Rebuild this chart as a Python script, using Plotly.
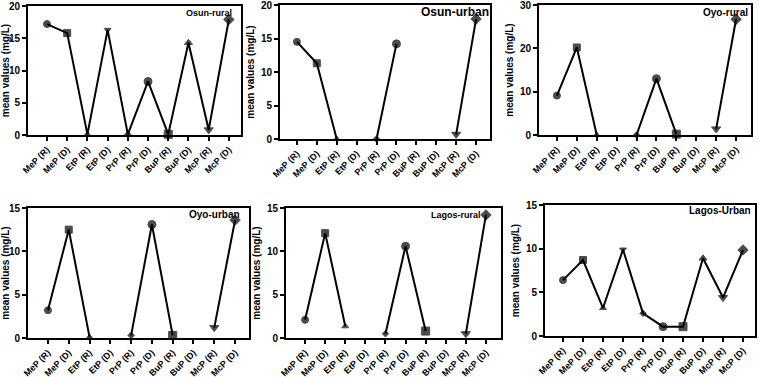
import plotly.graph_objects as go

categories = ["MeP (R)", "MeP (D)", "EtP (R)", "EtP (D)", "PrP (R)", "PrP (D)",
              "BuP (R)", "BuP (D)", "McP (R)", "McP (D)"]
markers = ["circle", "square", "triangle-up", "triangle-down", "diamond", "circle",
           "square", "triangle-up", "triangle-down", "diamond"]
marker_sizes = [7, 7, 6, 6, 5, 8, 8, 7, 8, 8]

osun_rural = [17.2, 15.8, 0.1, 16.3, 0.1, 8.3, 0.1, 14.3, 0.8, 17.9]
osun_urban = [14.5, 11.3, 0.0, None, 0.0, 14.2, None, None, 0.7, 17.9]
oyo_rural = [9.1, 20.2, 0.0, None, 0.0, 13.0, 0.2, None, 1.4, 26.7]
oyo_urban = [3.2, 12.5, 0.1, None, 0.3, 13.1, 0.3, None, 1.2, 13.6]
lagos_rural = [2.1, 12.1, 1.35, None, 0.5, 10.6, 0.8, None, 0.5, 14.2]
lagos_urban = [6.4, 8.7, 3.2, 9.9, 2.6, 1.07, 1.07, 8.9, 4.4, 9.85]

titles = ["Osun-rural", "Osun-urban", "Oyo-rural", "Oyo-urban", "Lagos-rural", "Lagos-Urban"]
series = [osun_rural, osun_urban, oyo_rural, oyo_urban, lagos_rural, lagos_urban]
yranges = [[0, 20], [0, 20], [0, 30], [0, 15], [0, 15], [0, 15]]
ydticks = [5, 5, 10, 5, 5, 5]

W, H = 759, 377
# pixel boxes: x0, x1, ytop, ybottom
boxes = [(28, 241, 6, 135), (280, 490, 5, 139), (539, 751, 5, 135),
         (28, 249, 208, 338), (286, 501, 208, 338), (545, 755, 205, 336)]
xranges = [[-0.94, 9.6], [-0.85, 9.7], [-0.9, 9.75], [-0.96, 9.67], [-0.95, 9.75], [-0.9, 9.6]]
title_pos = [(233, 7, 9), (490, 4, 12), (749, 6, 10), (241, 208, 10), (482, 209, 9), (752, 204, 10)]

fig = go.Figure()
font_fam = "Liberation Sans, Arial, sans-serif"

for i in range(6):
    xa = "x" if i == 0 else f"x{i+1}"
    ya = "y" if i == 0 else f"y{i+1}"
    fig.add_trace(go.Scatter(
        x=list(range(len(categories))), y=series[i], xaxis=xa, yaxis=ya,
        mode="lines+markers", connectgaps=False, cliponaxis=False,
        line=dict(color="black", width=2),
        marker=dict(symbol=markers, size=marker_sizes, color="black",
                    line=dict(color="black", width=1)),
        showlegend=False, hoverinfo="skip"))
    x0, x1, yt, yb = boxes[i]
    key = "" if i == 0 else str(i + 1)
    fig.layout["xaxis" + key] = dict(
        domain=[x0 / W, x1 / W], anchor=ya, range=xranges[i], automargin=False,
        tickvals=list(range(len(categories))), ticktext=categories,
        tickangle=-45, ticks="outside", ticklen=4, tickwidth=2, tickcolor="black",
        showline=True, linecolor="black", linewidth=2, mirror=True,
        showgrid=False, zeroline=False, ticklabeloverflow="allow",
        tickfont=dict(family=font_fam, size=9, color="black", weight="bold"))
    fig.layout["yaxis" + key] = dict(
        domain=[1 - yb / H, 1 - yt / H], anchor=xa, range=yranges[i], automargin=False,
        dtick=ydticks[i], tick0=0, ticklabeloverflow="allow",
        ticks="outside", ticklen=4, tickwidth=2, tickcolor="black",
        showline=True, linecolor="black", linewidth=2, mirror=True,
        showgrid=False, zeroline=False,
        tickfont=dict(family=font_fam, size=10, color="black", weight="bold"),
        title=dict(text="mean values (mg/L)", standoff=4,
                   font=dict(family=font_fam, size=10, color="black", weight="bold")))
    tx, ty, ts = title_pos[i]
    fig.add_annotation(text="<b>" + titles[i] + "</b>", xref="paper", yref="paper",
                       x=tx / W, y=1 - ty / H, xanchor="right", yanchor="top",
                       showarrow=False, borderpad=0,
                       font=dict(family=font_fam, size=ts, color="black"))

fig.update_layout(width=W, height=H, margin=dict(l=0, r=0, t=0, b=0),
                  plot_bgcolor="white", paper_bgcolor="white")
fig.write_html("out.html")
